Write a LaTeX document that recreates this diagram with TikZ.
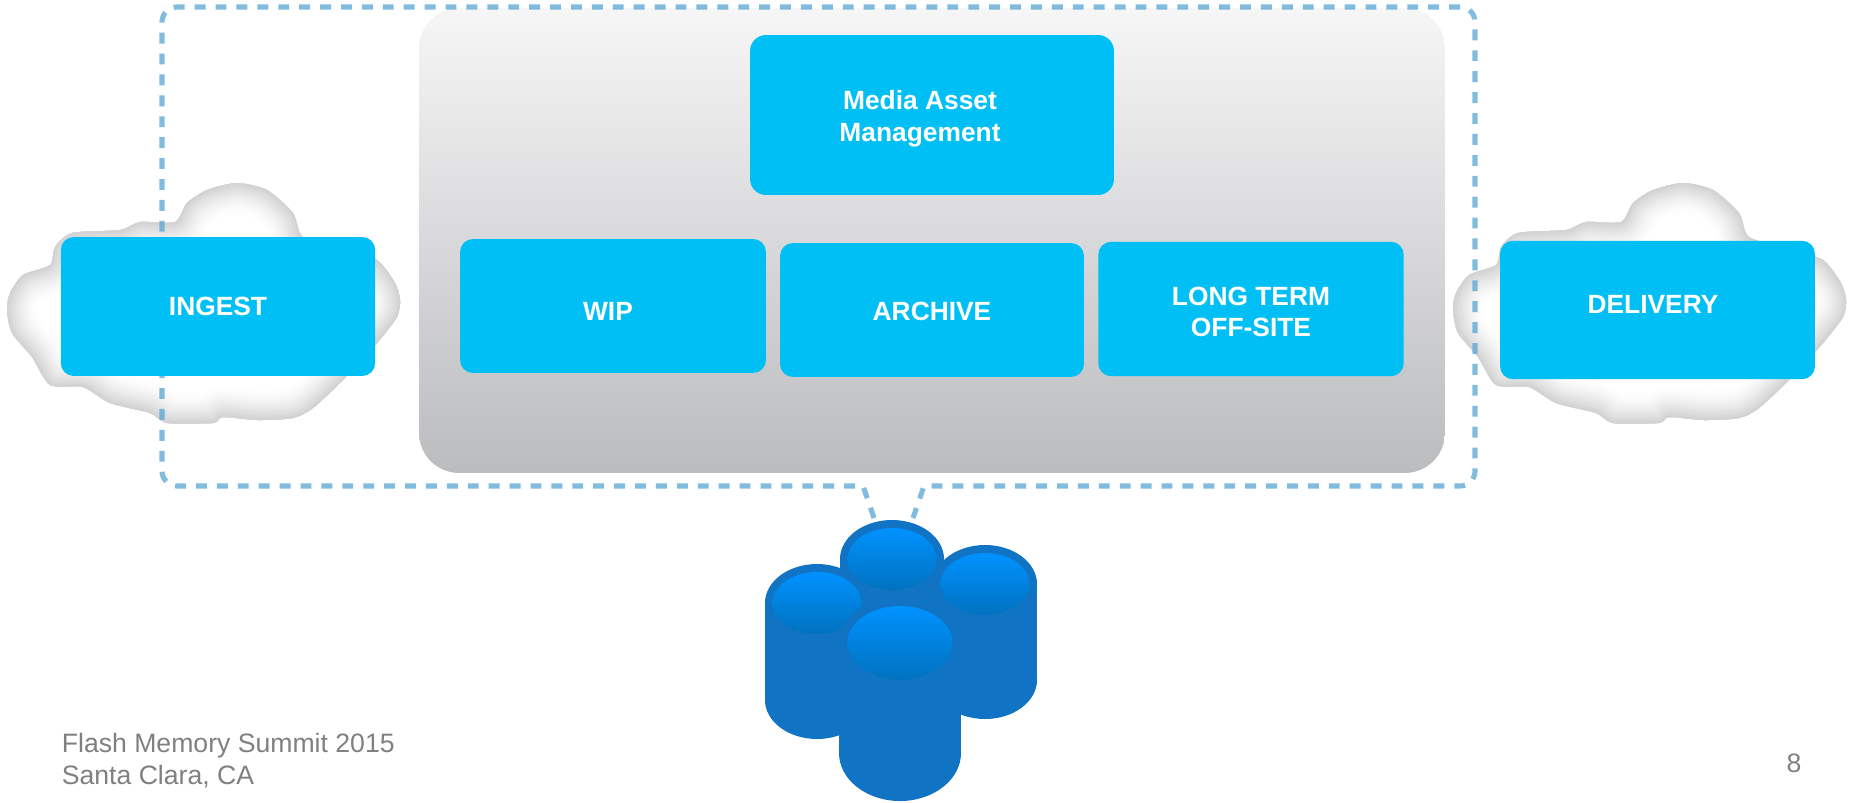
\documentclass[tikz,border=0pt]{standalone}
\usepackage{fontspec}
\setmainfont{Liberation Sans}
\definecolor{tilecol}{HTML}{00BFF5}
\definecolor{dashcol}{HTML}{5DA8D3}
\definecolor{drumcol}{HTML}{1173C3}
\definecolor{drumtop}{HTML}{0092FF}
\definecolor{drumlow}{HTML}{0072BE}
\definecolor{paneltop}{HTML}{F6F6F7}
\definecolor{panellow}{HTML}{BBBCBE}
\definecolor{footcol}{HTML}{808080}
\tikzset{
  tile/.style={fill=tilecol, rounded corners=0.26cm, inner sep=0pt},
  tiletext/.style={text=white, font=\fontsize{15}{18}\selectfont\bfseries, align=center},
  foottext/.style={text=footcol, font=\fontsize{15.15}{18.2}\selectfont, align=left, inner sep=0pt},
  dashline/.style={draw=dashcol, opacity=0.78, line width=2.9pt, dash pattern=on 6.2pt off 5.7pt}
}
\newcommand{\cloudpath}{plot [smooth cycle, tension=0.42] coordinates {(237,183) (267,190) (293,213) (303,237) (345,250) (377,260) (395,283) (400,300) (397,317) (377,343) (345,378) (313,408) (293,418) (258,420) (223,417) (213,423) (167,423) (150,413) (110,403) (83,387) (50,385) (32,357) (12,333) (7,310) (10,293) (23,275) (50,265) (55,247) (72,233) (120,230) (140,222) (175,222) (187,203) (207,190)}}
\begin{document}
\begin{tikzpicture}[x=0.02cm,y=-0.02cm]
\useasboundingbox (0,0) rectangle (1856,802);
%clouds, rim darkest
\foreach \dx in {0,1446}
{
  \begin{scope}[xshift=\dx*0.02cm]
    \clip \cloudpath;
    \fill [white] (0,170) rectangle (410,430);
    \foreach \w in {60,56,...,4}
    {
      \pgfmathsetmacro{\g}{19*(1-\w/64)^1.5}
      \draw [black!\g, line width=\w*0.567pt, line join=round] \cloudpath;
    }
  \end{scope}
}

\node (panel) [minimum width=20.52cm, minimum height=9.3cm, rounded corners=0.8cm, top color=paneltop, bottom color=panellow] at (932,240.5) {};

\coordinate (tipleft) at (874,518);
\coordinate (gapleft) at (863,486);
\coordinate (cornerbl) at (162,486);
\coordinate (cornertl) at (162,7);
\coordinate (cornertr) at (1475,7);
\coordinate (cornerbr) at (1475,486);
\coordinate (gapright) at (924,486);
\coordinate (tipright) at (913,518);
\draw [dashline] (tipleft) -- (gapleft) [rounded corners=0.3cm] -- (cornerbl) -- (cornertl) -- (cornertr) -- (cornerbr) [sharp corners] -- (gapright) -- (tipright);

\node (mam) [tile, rounded corners=0.32cm, minimum width=7.28cm, minimum height=3.2cm] at (932,115) {};
\node (mamtext) [tiletext] at (920,119) {Media Asset\\Management};
\node (wip) [tile, minimum width=6.12cm, minimum height=2.68cm] at (613,306) {};
\node (wiptext) [tiletext] at (608,311) {WIP};
\node (archive) [tile, minimum width=6.08cm, minimum height=2.68cm] at (932,310) {};
\node (archivetext) [tiletext] at (932,311) {ARCHIVE};
\node (longterm) [tile, minimum width=6.11cm, minimum height=2.69cm] at (1251,309) {};
\node (longtermtext) [tiletext] at (1251,312) {LONG TERM\\OFF-SITE};
\node (ingest) [tile, minimum width=6.29cm, minimum height=2.78cm] at (218,306.5) {};
\node (ingesttext) [tiletext] at (218,306) {INGEST};
\node (delivery) [tile, minimum width=6.30cm, minimum height=2.77cm] at (1657.5,310) {};
\node (deliverytext) [tiletext] at (1653,304) {DELIVERY};

\foreach \cx/\ty/\by/\rx/\ry in {892/559/680/52/39,985/584/680/52/39,817/603/700/52/39}
{
  \fill [drumcol] (\cx-\rx,\ty) rectangle (\cx+\rx,\by);
  \fill [drumcol] (\cx,\ty) ellipse ({\rx} and {\ry});
  \fill [drumcol] (\cx,\by) ellipse ({\rx} and {\ry});
  \shade [top color=drumtop, bottom color=drumlow] (\cx,\ty) ellipse (44.5 and 31);
}
\fill [drumcol] (839,643) rectangle (961,753);
\fill [drumcol] (900,643) ellipse (61 and 46);
\fill [drumcol] (900,753) ellipse (61 and 48);
\shade [top color=drumtop, bottom color=drumlow] (900,643) ellipse (52.5 and 37);

\node (venue) [foottext, anchor=north west] at (61.5,733) {Flash Memory Summit 2015\\Santa Clara, CA};
\node (pagenum) [foottext] at (1794,763) {8};
\end{tikzpicture}
\end{document}
